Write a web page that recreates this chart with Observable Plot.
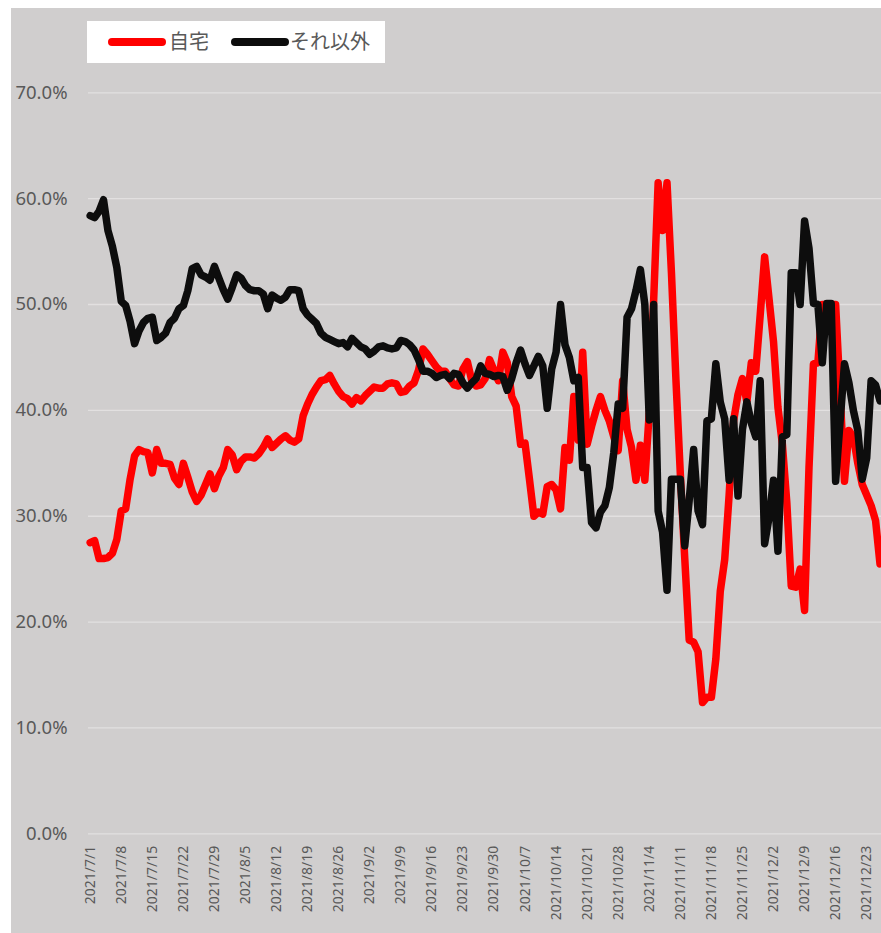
<!DOCTYPE html>
<html>
<head>
<meta charset="utf-8">
<script src="https://cdn.jsdelivr.net/npm/d3@7"></script>
<script src="https://cdn.jsdelivr.net/npm/@observablehq/plot@0.6"></script>
<style>
  html, body { margin: 0; padding: 0; background: #ffffff; }
  #frame { position: absolute; left: 11px; top: 8px; width: 870px; height: 925px; background: #d0cece; }
  #chart { position: absolute; left: 0; top: 0; }
  #legend { position: absolute; left: 87px; top: 21px; width: 298px; height: 42px; background: #ffffff;
            font-family: "Noto Sans CJK JP", sans-serif; font-size: 20px; color: #595959; }
  .sw { position: absolute; height: 8px; border-radius: 4px; top: 17px; }
  .lt { position: absolute; top: 6px; line-height: 28px; white-space: nowrap; }
</style>
</head>
<body>
<div id="frame"></div>
<div id="chart"></div>
<div id="legend">
  <div class="sw" style="left:21px;width:58px;background:#ff0000"></div>
  <div class="lt" style="left:82px">自宅</div>
  <div class="sw" style="left:144px;width:58px;background:#0d0d0d"></div>
  <div class="lt" style="left:203px">それ以外</div>
</div>
<script>
// Series names
const seriesNames = ["自宅", "それ以外"];
// First day of the daily series (2021/7/1) – one value per consecutive day
const startDate = new Date(Date.UTC(2021, 6, 1));

// 自宅 (%)
const homeValues = [
  27.5, 27.7, 26.0, 26.0, 26.1, 26.5, 27.8, 30.5, 30.7, 33.5,
  35.7, 36.3, 36.1, 36.0, 34.1, 36.3, 35.0, 35.0, 34.9, 33.6,
  33.0, 35.0, 33.7, 32.3, 31.4, 32.0, 33.0, 34.0, 32.6, 33.8,
  34.6, 36.3, 35.8, 34.4, 35.2, 35.6, 35.6, 35.5, 35.9, 36.5,
  37.3, 36.5, 36.9, 37.3, 37.6, 37.2, 37.0, 37.3, 39.5, 40.6,
  41.5, 42.2, 42.8, 42.9, 43.3, 42.5, 41.8, 41.3, 41.1, 40.6,
  41.2, 40.9, 41.4, 41.8, 42.2, 42.1, 42.1, 42.5, 42.6, 42.5,
  41.7, 41.8, 42.3, 42.6, 43.8, 45.8, 45.3, 44.7, 44.1, 43.7,
  43.7, 43.0, 42.4, 42.3, 43.9, 44.6, 42.8, 42.3, 42.4, 43.0,
  44.8, 43.8, 42.8, 45.5, 44.5, 41.3, 40.4, 36.8, 36.9, 33.5,
  30.0, 30.4, 30.2, 32.8, 33.0, 32.5, 30.7, 36.5, 35.3, 41.3,
  37.2, 45.5, 36.8, 38.5, 40.0, 41.3, 40.0, 39.0, 37.5, 36.2,
  42.8, 38.2, 36.5, 33.4, 36.7, 33.4, 39.8, 50.5, 61.5, 57.0,
  61.5, 53.0, 43.0, 34.0, 26.0, 18.3, 18.1, 17.2, 12.4, 12.9,
  12.9, 16.5, 22.9, 25.9, 32.0, 39.0, 41.5, 43.0, 40.8, 44.5,
  43.7, 49.0, 54.5, 50.5, 46.5, 40.3, 36.8, 31.3, 23.4, 23.3,
  25.0, 21.1, 34.6, 44.4, 44.5, 50.0, 50.0, 50.0, 50.0, 41.7,
  33.3, 38.1, 37.5, 35.0, 33.0, 32.0, 31.0, 29.6, 25.5
];

// それ以外 (%)
const otherValues = [
  58.4, 58.2, 58.8, 59.9, 57.0, 55.5, 53.5, 50.3, 49.9, 48.4,
  46.3, 47.5, 48.3, 48.7, 48.8, 46.6, 46.9, 47.3, 48.3, 48.7,
  49.6, 49.9, 51.3, 53.4, 53.6, 52.8, 52.6, 52.3, 53.6, 52.5,
  51.4, 50.5, 51.6, 52.8, 52.5, 51.8, 51.4, 51.3, 51.3, 51.0,
  49.6, 50.9, 50.6, 50.4, 50.7, 51.4, 51.4, 51.3, 49.6, 49.0,
  48.6, 48.2, 47.3, 46.9, 46.7, 46.5, 46.3, 46.4, 46.0, 46.8,
  46.4, 46.0, 45.8, 45.3, 45.6, 46.0, 46.1, 45.9, 45.8, 45.9,
  46.6, 46.5, 46.2, 45.7, 44.8, 43.7, 43.7, 43.5, 43.1, 43.3,
  43.4, 43.0, 43.5, 43.4, 42.6, 42.1, 42.6, 43.0, 44.2, 43.5,
  43.4, 43.2, 43.3, 43.2, 41.9, 43.0, 44.5, 45.7, 44.4, 43.3,
  44.2, 45.1, 44.2, 40.2, 43.9, 45.5, 50.0, 46.2, 45.0, 42.8,
  43.1, 34.6, 34.6, 29.4, 28.9, 30.4, 31.0, 32.7, 36.0, 40.6,
  40.2, 48.8, 49.6, 51.3, 53.3, 50.0, 39.1, 50.0, 30.5, 28.5,
  23.0, 33.5, 33.5, 33.5, 27.2, 31.5, 36.3, 30.5, 29.2, 39.0,
  39.2, 44.4, 40.8, 39.2, 33.4, 39.2, 31.9, 38.2, 40.8, 38.8,
  37.5, 42.8, 27.4, 29.9, 33.4, 26.7, 37.5, 37.7, 53.0, 53.0,
  50.0, 57.9, 55.3, 50.1, 50.0, 44.5, 50.1, 50.1, 33.3, 38.9,
  44.4, 42.6, 40.0, 38.1, 33.5, 35.5, 42.8, 42.4, 40.9
];

// Axis tick values
const yTicks = [0, 10, 20, 30, 40, 50, 60, 70];
const xTickLabels = [
  "2021/7/1", "2021/7/8", "2021/7/15", "2021/7/22", "2021/7/29", "2021/8/5",
  "2021/8/12", "2021/8/19", "2021/8/26", "2021/9/2", "2021/9/9", "2021/9/16",
  "2021/9/23", "2021/9/30", "2021/10/7", "2021/10/14", "2021/10/21", "2021/10/28",
  "2021/11/4", "2021/11/11", "2021/11/18", "2021/11/25", "2021/12/2", "2021/12/9",
  "2021/12/16", "2021/12/23"
];

const parseLabel = s => { const [y, m, d] = s.split("/").map(Number); return new Date(Date.UTC(y, m - 1, d)); };
const xTicks = xTickLabels.map(parseLabel);
const fmt = d => `${d.getUTCFullYear()}/${d.getUTCMonth() + 1}/${d.getUTCDate()}`;

const rows = [];
[homeValues, otherValues].forEach((vals, si) => {
  vals.forEach((v, i) => rows.push({ series: seriesNames[si], date: d3.utcDay.offset(startDate, i), value: v }));
});

const lastDate = d3.utcDay.offset(startDate, homeValues.length - 1);
const chart = Plot.plot({
  width: 881,
  height: 933,
  marginLeft: 88,
  marginRight: 0,
  marginTop: 92.3,
  marginBottom: 99.7,
  style: { background: "transparent", color: "#595959", fontFamily: "'Noto Sans', sans-serif", overflow: "visible" },
  x: { type: "utc", domain: [new Date(+startDate - 0.38 * 864e5), new Date(+lastDate + 0.34 * 864e5)] },
  y: { domain: [0, 70] },
  color: { domain: seriesNames, range: ["#ff0000", "#0d0d0d"] },
  marks: [
    Plot.gridY(yTicks, { stroke: "#e2e0e0", strokeOpacity: 1, strokeWidth: 1.3 }),
    Plot.axisY(yTicks, { tickSize: 0, tickPadding: 21, tickFormat: d => d.toFixed(1) + "%", fontSize: 18.5, label: null }),
    Plot.axisX(xTicks, { tickSize: 0, tickPadding: 12, tickRotate: -90, tickFormat: fmt, fontSize: 14, label: null }),
    Plot.lineY(rows, { x: "date", y: "value", z: "series", stroke: "series", strokeWidth: 7.5,
                       strokeLinejoin: "round", strokeLinecap: "round" })
  ]
});
// make sure the requested label sizes are applied to the text nodes
chart.querySelectorAll('g[aria-label="y-axis tick label"]').forEach(g => g.setAttribute("font-size", "18.5"));
chart.querySelectorAll('g[aria-label="x-axis tick label"]').forEach(g => g.setAttribute("font-size", "14"));
document.getElementById("chart").appendChild(chart);
</script>
</body>
</html>
